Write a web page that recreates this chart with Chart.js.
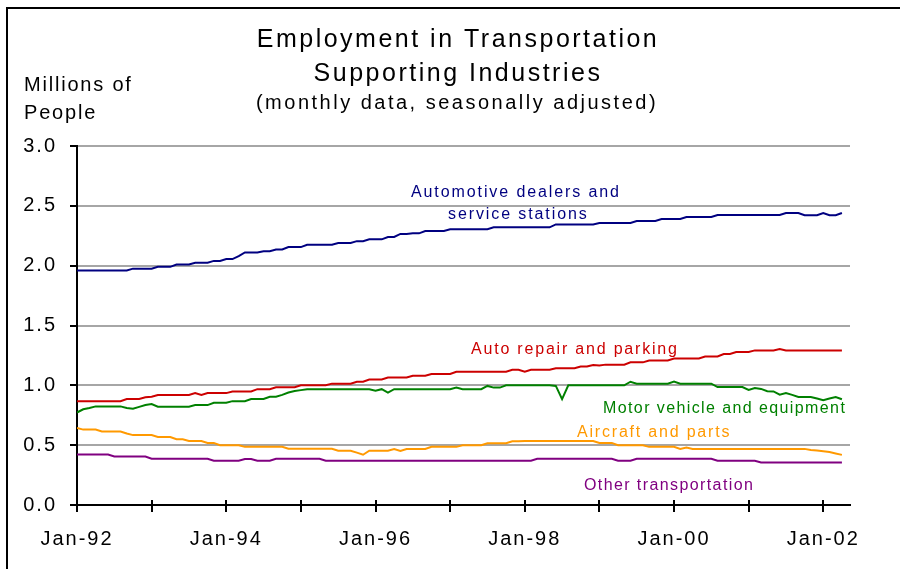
<!DOCTYPE html>
<html>
<head>
<meta charset="utf-8">
<script src="https://cdn.jsdelivr.net/npm/chart.js@4.4.1/dist/chart.umd.min.js"></script>
<style>
  html, body { margin: 0; padding: 0; background: #fff; overflow: hidden; }
  #wrap { width: 900px; height: 569px; }
</style>
</head>
<body>
<div id="wrap"><canvas id="chart" width="900" height="569"></canvas></div>
<script>
// monthly, Jan-92 .. Apr-02 (millions of people)
const tickLabels = ["Jan-92", "Jan-94", "Jan-96", "Jan-98", "Jan-00", "Jan-02"];

const autoDealers = [
    1.96, 1.96, 1.96, 1.96, 1.96, 1.96, 1.96, 1.96, 1.96, 1.975, 1.975, 1.975,
    1.975, 1.99, 1.99, 1.99, 2.01, 2.01, 2.01, 2.025, 2.025, 2.025, 2.04, 2.04,
    2.055, 2.055, 2.08, 2.11, 2.11, 2.11, 2.12, 2.12, 2.135, 2.135, 2.155, 2.155,
    2.155, 2.175, 2.175, 2.175, 2.175, 2.175, 2.19, 2.19, 2.19, 2.205, 2.205, 2.22,
    2.22, 2.22, 2.24, 2.24, 2.265, 2.265, 2.27, 2.27, 2.29, 2.29, 2.29, 2.29,
    2.305, 2.305, 2.305, 2.305, 2.305, 2.305, 2.305, 2.32, 2.32, 2.32, 2.32, 2.32,
    2.32, 2.32, 2.32, 2.32, 2.32, 2.345, 2.345, 2.345, 2.345, 2.345, 2.345, 2.345,
    2.357, 2.357, 2.357, 2.357, 2.357, 2.357, 2.373, 2.373, 2.373, 2.373, 2.39, 2.39,
    2.39, 2.39, 2.407, 2.407, 2.407, 2.407, 2.407, 2.424, 2.424, 2.424, 2.424, 2.424,
    2.424, 2.424, 2.424, 2.424, 2.424, 2.424, 2.44, 2.44, 2.44, 2.421, 2.421, 2.421,
    2.44, 2.421, 2.421, 2.44
];

const autoRepair = [
    0.868, 0.868, 0.868, 0.868, 0.868, 0.868, 0.868, 0.868, 0.886, 0.886, 0.886, 0.9,
    0.905, 0.919, 0.919, 0.919, 0.919, 0.919, 0.919, 0.935, 0.919, 0.935, 0.935, 0.935,
    0.935, 0.949, 0.949, 0.949, 0.949, 0.968, 0.968, 0.968, 0.984, 0.984, 0.984, 0.984,
    1.0, 1.0, 1.0, 1.0, 1.0, 1.014, 1.014, 1.014, 1.014, 1.03, 1.03, 1.049,
    1.049, 1.049, 1.065, 1.065, 1.065, 1.065, 1.08, 1.08, 1.08, 1.095, 1.095, 1.095,
    1.095, 1.114, 1.114, 1.114, 1.114, 1.114, 1.114, 1.114, 1.114, 1.114, 1.13, 1.13,
    1.114, 1.13, 1.13, 1.13, 1.13, 1.143, 1.143, 1.143, 1.143, 1.157, 1.157, 1.17,
    1.165, 1.173, 1.173, 1.173, 1.173, 1.192, 1.192, 1.192, 1.208, 1.208, 1.208, 1.208,
    1.224, 1.224, 1.224, 1.224, 1.224, 1.241, 1.241, 1.241, 1.262, 1.262, 1.278, 1.278,
    1.278, 1.292, 1.292, 1.292, 1.292, 1.303, 1.292, 1.292, 1.292, 1.292, 1.292, 1.292,
    1.292, 1.292, 1.292, 1.292
];

const motorVehicle = [
    0.773, 0.8, 0.81, 0.824, 0.824, 0.824, 0.824, 0.824, 0.81, 0.805, 0.82, 0.835,
    0.843, 0.822, 0.822, 0.822, 0.822, 0.822, 0.822, 0.835, 0.835, 0.835, 0.854, 0.854,
    0.854, 0.868, 0.868, 0.868, 0.886, 0.886, 0.886, 0.905, 0.905, 0.92, 0.94, 0.952,
    0.96, 0.968, 0.968, 0.968, 0.968, 0.968, 0.968, 0.968, 0.968, 0.968, 0.968, 0.968,
    0.955, 0.968, 0.94, 0.968, 0.968, 0.968, 0.968, 0.968, 0.968, 0.968, 0.968, 0.968,
    0.968, 0.981, 0.968, 0.968, 0.968, 0.968, 0.995, 0.981, 0.981, 1.0, 1.0, 1.0,
    1.0, 1.0, 1.0, 1.0, 1.0, 0.995, 0.885, 1.0, 1.0, 1.0, 1.0, 1.0,
    1.0, 1.0, 1.0, 1.0, 1.0, 1.03, 1.014, 1.014, 1.014, 1.014, 1.014, 1.014,
    1.032, 1.014, 1.014, 1.014, 1.014, 1.014, 1.014, 0.986, 0.986, 0.986, 0.986, 0.986,
    0.962, 0.978, 0.97, 0.951, 0.949, 0.922, 0.935, 0.92, 0.903, 0.903, 0.903, 0.89,
    0.876, 0.89, 0.903, 0.884
];

const aircraft = [
    0.643, 0.63, 0.63, 0.63, 0.614, 0.614, 0.614, 0.614, 0.597, 0.584, 0.584, 0.584,
    0.584, 0.568, 0.568, 0.568, 0.549, 0.549, 0.535, 0.535, 0.535, 0.519, 0.519, 0.5,
    0.5, 0.5, 0.5, 0.486, 0.486, 0.486, 0.486, 0.486, 0.486, 0.486, 0.47, 0.47,
    0.47, 0.47, 0.47, 0.47, 0.47, 0.47, 0.454, 0.454, 0.454, 0.438, 0.42, 0.454,
    0.454, 0.454, 0.454, 0.468, 0.451, 0.468, 0.468, 0.468, 0.468, 0.486, 0.486, 0.486,
    0.486, 0.486, 0.5, 0.5, 0.5, 0.5, 0.516, 0.516, 0.516, 0.516, 0.532, 0.532,
    0.535, 0.535, 0.535, 0.535, 0.535, 0.535, 0.535, 0.535, 0.535, 0.535, 0.535, 0.535,
    0.519, 0.519, 0.519, 0.5, 0.5, 0.5, 0.5, 0.5, 0.486, 0.486, 0.486, 0.486,
    0.486, 0.469, 0.48, 0.469, 0.469, 0.469, 0.469, 0.469, 0.469, 0.469, 0.469, 0.469,
    0.469, 0.469, 0.469, 0.469, 0.469, 0.469, 0.469, 0.469, 0.469, 0.469, 0.46, 0.455,
    0.45, 0.442, 0.43, 0.419
];

const otherTransport = [
    0.422, 0.422, 0.422, 0.422, 0.422, 0.422, 0.405, 0.405, 0.405, 0.405, 0.405, 0.405,
    0.386, 0.386, 0.386, 0.386, 0.386, 0.386, 0.386, 0.386, 0.386, 0.386, 0.37, 0.37,
    0.37, 0.37, 0.37, 0.384, 0.384, 0.37, 0.37, 0.37, 0.386, 0.386, 0.386, 0.386,
    0.386, 0.386, 0.386, 0.386, 0.37, 0.37, 0.37, 0.37, 0.37, 0.37, 0.37, 0.37,
    0.37, 0.37, 0.37, 0.37, 0.37, 0.37, 0.37, 0.37, 0.37, 0.37, 0.37, 0.37,
    0.37, 0.37, 0.37, 0.37, 0.37, 0.37, 0.37, 0.37, 0.37, 0.37, 0.37, 0.37,
    0.37, 0.37, 0.386, 0.386, 0.386, 0.386, 0.386, 0.386, 0.386, 0.386, 0.386, 0.386,
    0.386, 0.386, 0.386, 0.37, 0.37, 0.37, 0.386, 0.386, 0.386, 0.386, 0.386, 0.386,
    0.386, 0.386, 0.386, 0.386, 0.386, 0.386, 0.386, 0.37, 0.37, 0.37, 0.37, 0.37,
    0.37, 0.37, 0.355, 0.355, 0.355, 0.355, 0.355, 0.355, 0.355, 0.355, 0.355, 0.355,
    0.355, 0.355, 0.355, 0.355
];

const FONT = '"Liberation Sans", Arial, sans-serif';

function points(series) {
    return series.map((v, i) => ({ x: i, y: v }));
}

function lineSet(label, series, color) {
    return {
        label: label,
        data: points(series),
        borderColor: color,
        borderWidth: 2,
        pointRadius: 0,
        tension: 0,
        fill: false,
    };
}

function spacedText(ctx, text, x, y, size, spacing, color, align) {
    ctx.save();
    ctx.font = `${size}px ${FONT}`;
    ctx.letterSpacing = `${spacing}px`;
    ctx.fillStyle = color;
    ctx.textAlign = align || "left";
    ctx.textBaseline = "alphabetic";
    ctx.fillText(text, x, y);
    ctx.restore();
}

const decor = {
    id: "decor",
    beforeDraw(chart) {
        const ctx = chart.ctx;
        ctx.save();
        ctx.fillStyle = "#fff";
        ctx.fillRect(0, 0, chart.width, chart.height);
        // frame: only the left and top edges show in the picture
        ctx.strokeStyle = "#000";
        ctx.lineWidth = 2;
        ctx.beginPath();
        ctx.moveTo(7, chart.height);
        ctx.lineTo(7, 8);
        ctx.lineTo(chart.width, 8);
        ctx.stroke();
        ctx.restore();
        ctx.letterSpacing = "2px";
    },
    afterDraw(chart) {
        const ctx = chart.ctx;
        const xs = chart.scales.x;
        const bottom = chart.chartArea.bottom;

        ctx.save();
        ctx.strokeStyle = "#000";
        ctx.lineWidth = 2;
        ctx.beginPath();
        xs.ticks.forEach((t) => {
            const px = Math.round(xs.getPixelForValue(t.value));
            ctx.moveTo(px, bottom - 5);
            ctx.lineTo(px, bottom + 7);
        });
        ctx.stroke();
        ctx.restore();

        spacedText(ctx, "Employment in Transportation", 458, 47, 25, 2.5, "#000", "center");
        spacedText(ctx, "Supporting Industries", 458, 81, 25, 2.5, "#000", "center");
        spacedText(ctx, "(monthly data, seasonally adjusted)", 457, 109, 20, 2.5, "#000", "center");
        spacedText(ctx, "Millions of", 24, 91, 20, 1.8, "#000");
        spacedText(ctx, "People", 24, 119, 20, 1.8, "#000");

        spacedText(ctx, "Automotive dealers and", 411, 197, 16, 1.9, "#000080");
        spacedText(ctx, "service stations", 448, 219, 16, 1.9, "#000080");
        spacedText(ctx, "Auto repair and parking", 471, 354, 16, 1.8, "#cc0000");
        spacedText(ctx, "Motor vehicle and equipment", 603, 413, 16, 1.4, "#008000");
        spacedText(ctx, "Aircraft and parts", 577, 437, 16, 1.8, "#ff9900");
        spacedText(ctx, "Other transportation", 584, 490, 16, 1.4, "#800080");
    },
};

new Chart(document.getElementById("chart"), {
    type: "line",
    data: {
        datasets: [
            lineSet("Automotive dealers and service stations", autoDealers, "#000080"),
            lineSet("Auto repair and parking", autoRepair, "#cc0000"),
            lineSet("Motor vehicle and equipment", motorVehicle, "#008000"),
            lineSet("Aircraft and parts", aircraft, "#ff9900"),
            lineSet("Other transportation", otherTransport, "#800080"),
        ],
    },
    options: {
        responsive: false,
        animation: false,
        layout: { padding: { top: 146, right: 50, left: 0, bottom: 0 } },
        plugins: {
            legend: { display: false },
            tooltip: { enabled: false },
        },
        scales: {
            x: {
                type: "linear",
                min: 0,
                max: 124.3,
                afterFit: (scale) => { scale.height = 64; },
                border: { color: "#000", width: 2 },
                grid: { display: false },
                ticks: {
                    stepSize: 12,
                    includeBounds: false,
                    autoSkip: false,
                    maxRotation: 0,
                    padding: 14,
                    color: "#000",
                    font: { family: FONT, size: 20 },
                    callback: (v) => (v % 24 === 0 ? tickLabels[v / 24] : ""),
                },
            },
            y: {
                min: 0,
                max: 3,
                afterFit: (scale) => { scale.width = 77; },
                border: { color: "#000", width: 2 },
                grid: {
                    color: (c) => (c.tick && c.tick.value === 0 ? "rgba(0,0,0,0)" : "#a6a6a6"),
                    lineWidth: 2,
                    tickLength: 7,
                    tickColor: "#000",
                    tickWidth: 2,
                },
                ticks: {
                    stepSize: 0.5,
                    padding: 13,
                    color: "#000",
                    font: { family: FONT, size: 20 },
                    callback: (v) => v.toFixed(1),
                },
            },
        },
    },
    plugins: [decor],
});
</script>
</body>
</html>
